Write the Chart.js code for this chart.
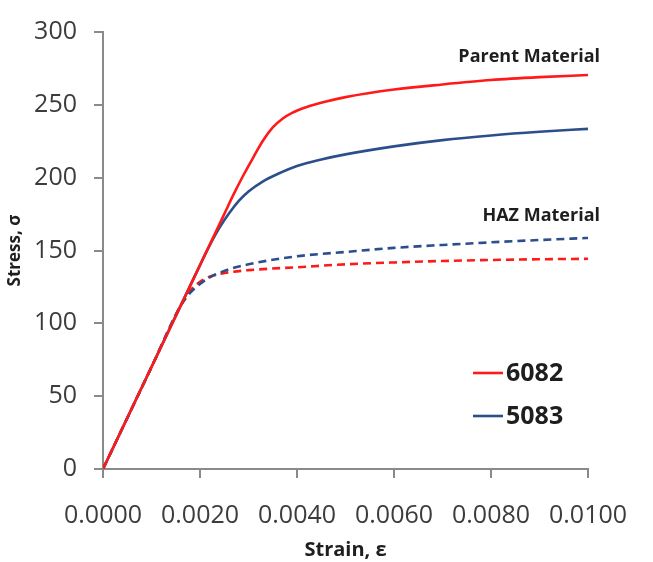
<!DOCTYPE html>
<html>
<head>
<meta charset="utf-8">
<script src="https://cdn.jsdelivr.net/npm/chart.js@4/dist/chart.umd.min.js"></script>
<style>
  html, body { margin: 0; padding: 0; background: #ffffff; }
  #wrap { width: 653px; height: 562px; position: relative; }
</style>
</head>
<body>
<div id="wrap"><canvas id="chart" width="653" height="562"></canvas></div>
<script>
// Stress–strain curves (stress in MPa) for alloys 6082 and 5083
const strain6082Parent = [0, 0.0010, 0.0020, 0.0025, 0.0027, 0.0029, 0.0031, 0.0033, 0.0035, 0.0037, 0.0039, 0.0042, 0.0046, 0.0050, 0.0060, 0.0070, 0.0080, 0.0090, 0.0100];
const stress6082Parent = [0, 70, 140, 175, 189, 202, 214, 225.5, 234.5, 240.5, 244.5, 248.5, 252.3, 255.3, 260.5, 264, 267, 269, 270.5];

const strain5083Parent = [0, 0.0010, 0.0020, 0.0022, 0.0024, 0.0026, 0.0028, 0.0030, 0.0033, 0.0036, 0.0040, 0.0045, 0.0050, 0.0060, 0.0070, 0.0080, 0.0090, 0.0100];
const stress5083Parent = [0, 70, 140, 153.5, 165.5, 175.5, 184, 190.5, 197.5, 202.5, 208, 212.5, 216, 221.5, 225.8, 229, 231.5, 233.5];

const strain6082HAZ = [0, 0.0010, 0.0016, 0.0018, 0.0020, 0.0022, 0.0025, 0.0030, 0.0040, 0.0050, 0.0060, 0.0070, 0.0080, 0.0090, 0.0100];
const stress6082HAZ = [0, 70, 112, 122.5, 128.5, 132, 134.5, 136.5, 138.5, 140.5, 141.8, 142.8, 143.5, 144, 144.3];

const strain5083HAZ = [0, 0.0010, 0.0016, 0.0018, 0.0020, 0.0022, 0.0025, 0.0030, 0.0040, 0.0050, 0.0060, 0.0070, 0.0080, 0.0090, 0.0100];
const stress5083HAZ = [0, 70, 112, 121, 127, 131.5, 136, 140.5, 146, 149, 151.8, 153.8, 155.6, 157.2, 158.6];

const seriesNames = ['6082', '5083'];
const regionLabels = ['Parent Material', 'HAZ Material'];

const RED = '#ff1a1a';
const BLUE = '#2c4f8c';
const AXIS = '#8a8a8a';
const TICK_TEXT = '#3c3c3c';
const TITLE_TEXT = '#1e1e1e';

function toPoints(xs, ys) {
  return xs.map((x, i) => ({ x: x, y: ys[i] }));
}

const lineStyle = { pointRadius: 0, borderWidth: 2.6, cubicInterpolationMode: 'monotone', fill: false };

const datasets = [
  Object.assign({ label: seriesNames[0], data: toPoints(strain6082Parent, stress6082Parent), borderColor: RED }, lineStyle),
  Object.assign({ label: seriesNames[1], data: toPoints(strain5083Parent, stress5083Parent), borderColor: BLUE }, lineStyle),
  Object.assign({ label: seriesNames[1] + ' HAZ', data: toPoints(strain5083HAZ, stress5083HAZ), borderColor: BLUE, borderDash: [8, 5] }, lineStyle),
  Object.assign({ label: seriesNames[0] + ' HAZ', data: toPoints(strain6082HAZ, stress6082HAZ), borderColor: RED, borderDash: [8, 5] }, lineStyle)
];

// Region notes and the in-plot key for the two alloys
const notesPlugin = {
  id: 'notes',
  afterDraw(chart) {
    const { ctx, chartArea, scales } = chart;
    const xs = scales.x, ys = scales.y;
    ctx.save();
    ctx.fillStyle = TITLE_TEXT;
    ctx.textAlign = 'right';
    ctx.textBaseline = 'middle';
    ctx.font = 'bold 18px "Open Sans", sans-serif';
    const rightEdge = xs.getPixelForValue(0.0100) + 12;
    ctx.fillText(regionLabels[0], rightEdge, ys.getPixelForValue(283));
    ctx.fillText(regionLabels[1], rightEdge, ys.getPixelForValue(173.5));

    // key
    const keyColors = [RED, BLUE];
    const keyX = chartArea.right - 115;
    const keyY0 = chartArea.top + 341;
    const keyGap = 43;
    ctx.font = 'bold 25px "Open Sans", sans-serif';
    ctx.textAlign = 'left';
    seriesNames.forEach((name, i) => {
      const y = keyY0 + i * keyGap;
      ctx.strokeStyle = keyColors[i];
      ctx.lineWidth = 2.6;
      ctx.beginPath();
      ctx.moveTo(keyX, y);
      ctx.lineTo(keyX + 30, y);
      ctx.stroke();
      ctx.fillStyle = TITLE_TEXT;
      ctx.fillText(name, keyX + 33, y + 1);
    });
    ctx.restore();
  }
};

new Chart(document.getElementById('chart'), {
  type: 'line',
  data: { datasets: datasets },
  options: {
    responsive: false,
    animation: false,
    layout: { padding: { top: 30, right: 65, left: 0, bottom: 0 } },
    plugins: {
      legend: { display: false },
      tooltip: { enabled: false }
    },
    scales: {
      x: {
        type: 'linear',
        min: 0,
        max: 0.01,
        afterFit(scale) { scale.height = 93; },
        ticks: {
          stepSize: 0.002,
          padding: 23,
          color: TICK_TEXT,
          font: { family: '"Open Sans", sans-serif', size: 25 },
          callback: (v) => Number(v).toFixed(4)
        },
        grid: { display: true, drawOnChartArea: false, drawTicks: true, tickLength: 9, color: AXIS, lineWidth: 2 },
        border: { display: true, color: AXIS, width: 2 },
        title: {
          display: true,
          text: 'Strain, ε',
          color: TITLE_TEXT,
          font: { family: '"Open Sans", sans-serif', size: 20, weight: 'bold' },
          padding: { top: 2, bottom: 0 }
        }
      },
      y: {
        type: 'linear',
        min: 0,
        max: 300,
        afterFit(scale) { scale.width = 103; },
        ticks: {
          stepSize: 50,
          padding: 17,
          color: TICK_TEXT,
          font: { family: '"Open Sans", sans-serif', size: 25 }
        },
        grid: { display: true, drawOnChartArea: false, drawTicks: true, tickLength: 9, color: AXIS, lineWidth: 2 },
        border: { display: true, color: AXIS, width: 2 },
        title: {
          display: true,
          text: 'Stress, σ',
          color: TITLE_TEXT,
          font: { family: '"Open Sans", sans-serif', size: 17, weight: 'bold' },
          padding: { top: 5, bottom: 0 }
        }
      }
    }
  },
  plugins: [notesPlugin]
});
</script>
</body>
</html>
